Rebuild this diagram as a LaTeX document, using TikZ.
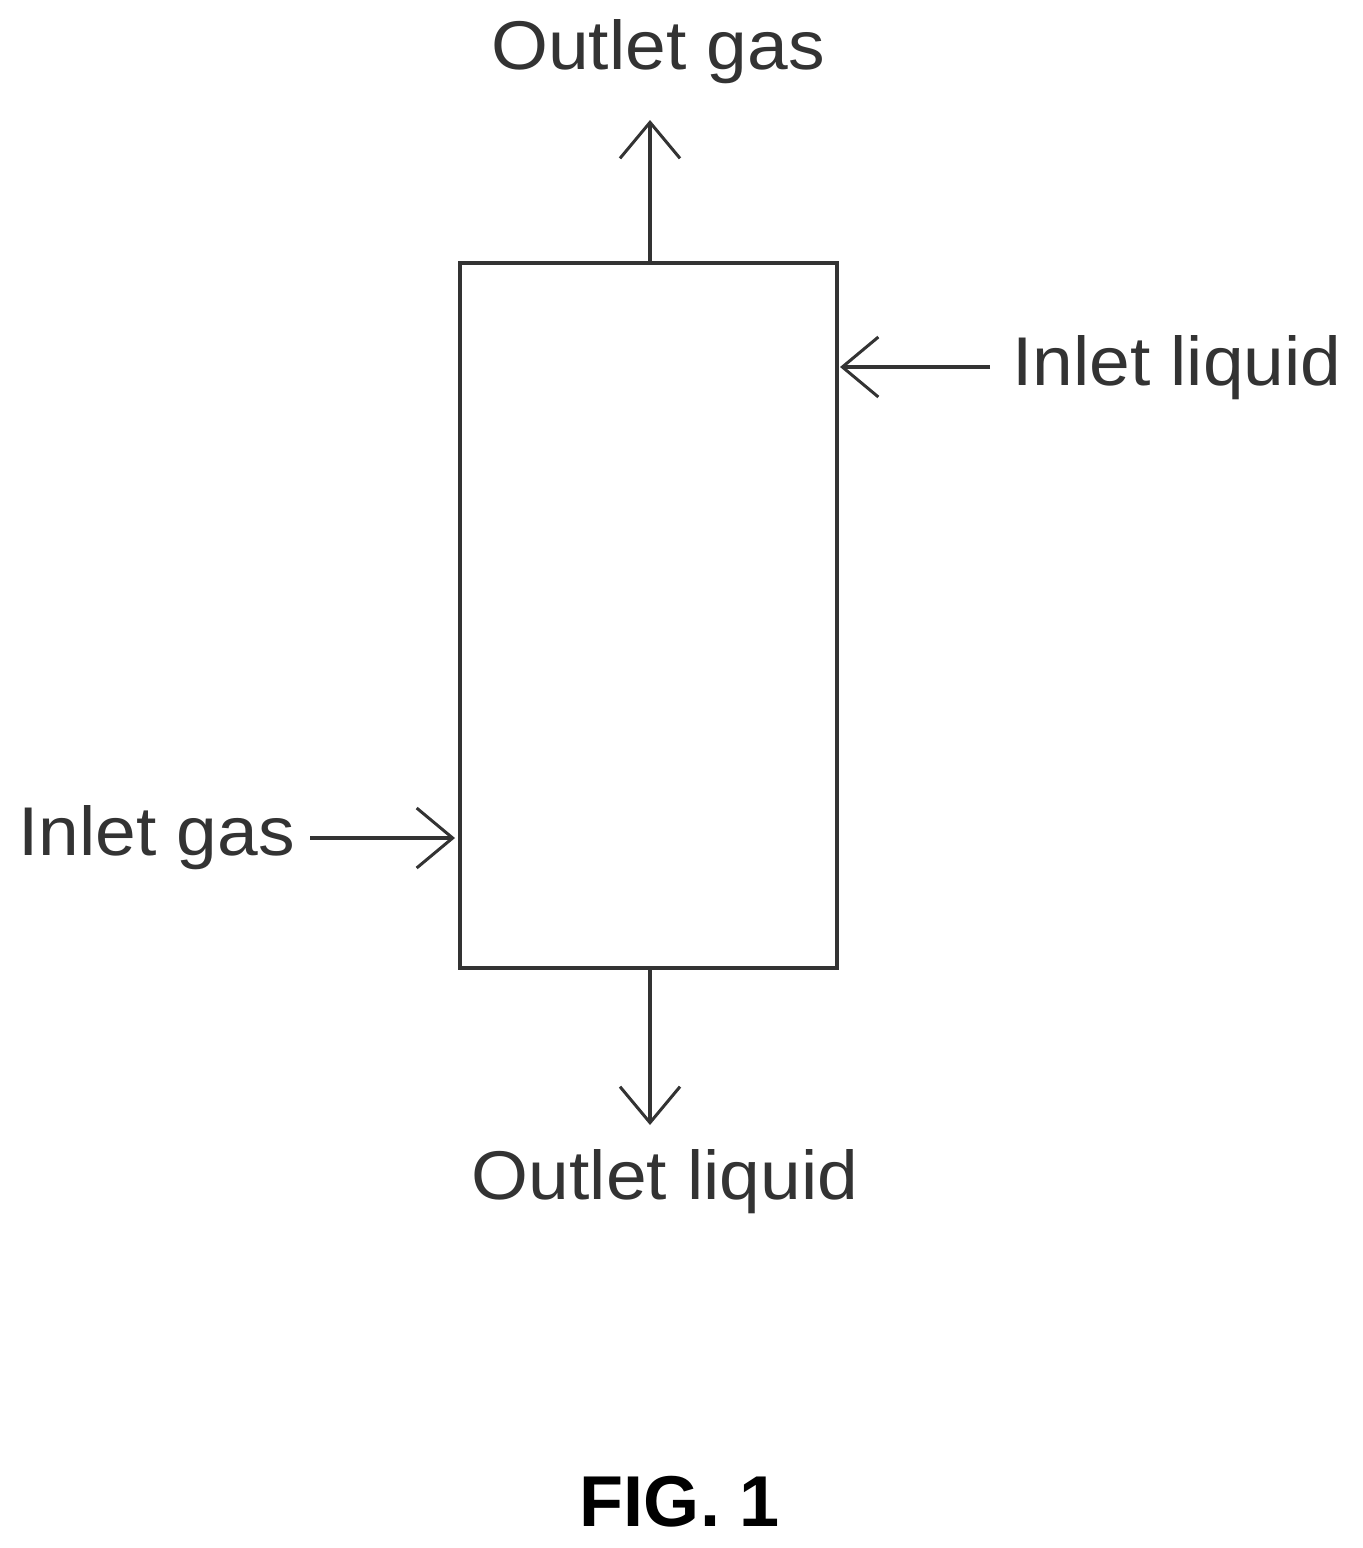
\documentclass[tikz,border=0pt]{standalone}
\usepackage{fontspec}
\setmainfont{Liberation Sans}
\usetikzlibrary{arrows.meta}
\begin{document}
\begin{tikzpicture}[x=1pt,y=-1pt,
  ln/.style={line width=3.5pt,draw=black!80},
  ar/.style={ln,-{Straight Barb[length=36pt,width=60pt,line width=3pt]}},
  lbl/.style={font=\fontsize{69}{75}\selectfont,text=black!80,inner sep=0pt,xscale=1.06}]
\useasboundingbox (0,0) rectangle (1363,1548);
\node[ln,draw,minimum width=377pt,minimum height=705pt,inner sep=0pt] (box) at (648.5,615.5) {};
\node[lbl] (og) at (658,52) {Outlet gas};
\node[lbl,anchor=west] (il) at (1012,368) {Inlet liquid};
\node[lbl,anchor=east] (ig) at (295,838) {Inlet gas};
\node[lbl] (ol) at (665,1182) {Outlet liquid};
\node[font=\bfseries\fontsize{72}{80}\selectfont,inner sep=0pt] (fig) at (680,1502) {FIG. 1};
\coordinate (tt) at (650,120);
\coordinate (tb) at (650,263);
\coordinate (bt) at (650,968);
\coordinate (bb) at (650,1125);
\coordinate (ls) at (990,367);
\coordinate (le) at (840,367);
\coordinate (gs) at (310,838);
\coordinate (ge) at (455,838);
\draw[ar] (tb) -- (tt);
\draw[ar] (bt) -- (bb);
\draw[ar] (ls) -- (le);
\draw[ar] (gs) -- (ge);
\end{tikzpicture}
\end{document}
